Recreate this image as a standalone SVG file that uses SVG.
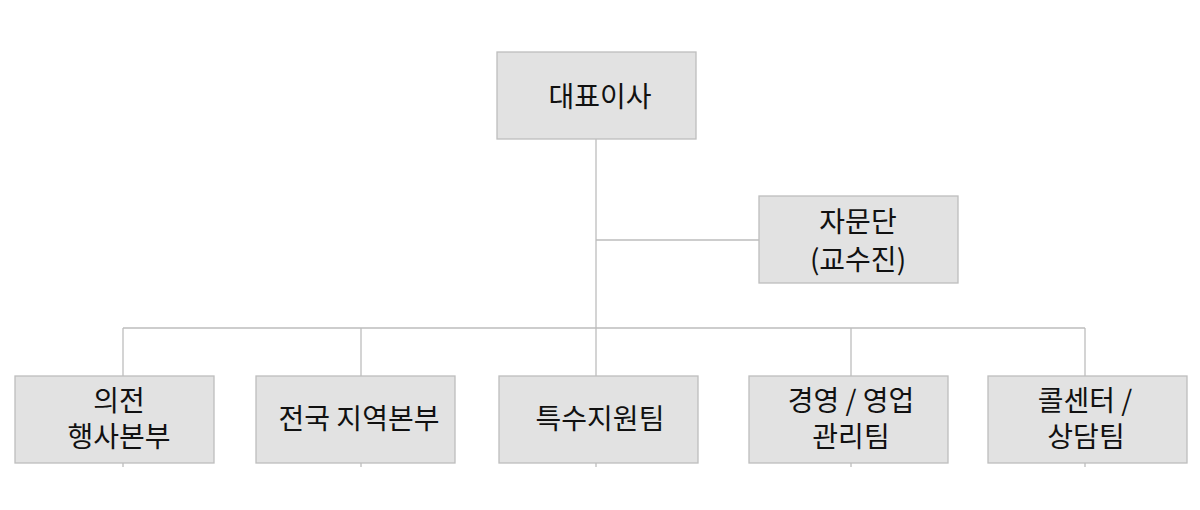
<svg xmlns="http://www.w3.org/2000/svg" width="1200" height="510" viewBox="0 0 1200 510">
<style>
.box{fill:#e2e2e2;stroke:#bdbdbd;stroke-width:1.3}
.ln{stroke:#bdbdbd;stroke-width:1.3;fill:none}
text{font-family:"Noto Sans CJK KR","Noto Sans",sans-serif;font-size:28px;fill:#111;text-anchor:middle}
</style>
<rect width="1200" height="510" fill="#fff"/>
<g id="connectors">
<path class="ln" d="M596,139V328M596,240H759M123,328H1085M123,328V467M361,328V467M596,328V467M851,328V467M1085,328V467"/>
</g>
<g id="n-ceo"><rect class="box" x="497" y="52" width="199" height="87"/><text x="600" y="107">대표이사</text></g>
<g id="n-advisory"><rect class="box" x="759" y="196" width="199" height="87"/><text x="858" y="232">자문단</text><text x="858" y="270">(교수진)</text></g>
<g id="n-event"><rect class="box" x="15" y="376" width="199" height="87"/><text x="119" y="411">의전</text><text x="119" y="447">행사본부</text></g>
<g id="n-region"><rect class="box" x="256" y="376" width="199" height="87"/><text x="359" y="429">전국 지역본부</text></g>
<g id="n-special"><rect class="box" x="499" y="376" width="199" height="87"/><text x="600" y="429">특수지원팀</text></g>
<g id="n-mgmt"><rect class="box" x="749" y="376" width="199" height="87"/><text x="851" y="411">경영 / 영업</text><text x="851" y="447">관리팀</text></g>
<g id="n-call"><rect class="box" x="988" y="376" width="199" height="87"/><text x="1085" y="411">콜센터 /</text><text x="1086" y="447">상담팀</text></g>
</svg>
